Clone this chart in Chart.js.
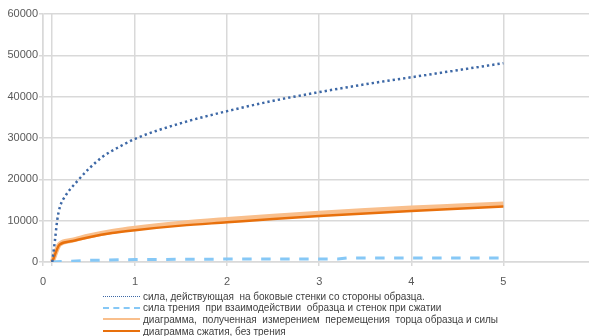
<!DOCTYPE html>
<html lang="ru">
<head>
<meta charset="utf-8">
<title>Диаграмма сжатия</title>
<script src="https://cdn.jsdelivr.net/npm/chart.js@4/dist/chart.umd.min.js"></script>
<style>
  html, body { margin: 0; padding: 0; background: #fff; overflow: hidden; }
  #wrap { position: relative; width: 589px; height: 336px; }
  #box { position: absolute; left: 0; top: 0; width: 589px; height: 292px; }
  #legend { position: absolute; left: 103px; top: 290px; font-family: "Liberation Sans", Arial, sans-serif;
            font-size: 10px; color: #404040; }
  .row { position: absolute; left: 0; height: 12px; white-space: pre; display: flex; align-items: center; }
  .sample { width: 37px; height: 0; margin-right: 3px; }
</style>
</head>
<body>
<div id="wrap">
  <div id="box"><canvas id="c"></canvas></div>
  <div id="legend"></div>
</div>
<script>
// Series labels
const seriesNames = [
  'сила, действующая  на боковые стенки со стороны образца.',
  'сила трения  при взаимодействии  образца и стенок при сжатии',
  'диаграмма,  полученная  измерением  перемещения  торца образца и силы',
  'диаграмма сжатия, без трения'
];

// Displacement values for each series
const xSide = [0.1, 0.11, 0.13, 0.155, 0.185, 0.24, 0.37, 0.5, 0.65, 0.84, 1.0, 1.5, 2, 2.5, 3, 3.5, 4, 4.5, 5];
const ySide = [0, 1700, 5300, 10200, 13400, 15900, 19500, 22600, 25500, 28000, 29800, 33600, 36500, 39000, 41100, 43000, 44700, 46400, 48100];

const xFriction = [0.1, 0.2, 0.5, 1, 1.5, 2, 2.5, 3, 3.2, 3.3, 4, 5];
const yFriction = [0, 100, 400, 600, 650, 700, 700, 720, 720, 950, 960, 980];

const xMeasured = [0.1, 0.18, 0.3, 0.5, 0.75, 1, 1.5, 2, 2.5, 3, 3.5, 4, 4.5, 5];
const yMeasured = [0, 4300, 5200, 6300, 7400, 8200, 9400, 10300, 11100, 11800, 12450, 13050, 13550, 14050];

const xPure = [0.1, 0.18, 0.3, 0.5, 0.75, 1, 1.5, 2, 2.5, 3, 3.5, 4, 4.5, 5];
const yPure = [0, 4200, 5000, 6000, 7000, 7700, 8800, 9600, 10400, 11100, 11750, 12350, 12900, 13400];

// Axis ticks
const xTicks = [0, 0.1, 1, 2, 3, 4, 5];
const xLabels = ['0', '', '1', '2', '3', '4', '5'];
const yTicks = [0, 10000, 20000, 30000, 40000, 50000, 60000];

const pts = (xs, ys) => xs.map((x, i) => ({ x: x, y: ys[i] }));

const colors = {
  side: '#3d68a6',
  friction: '#86c8f6',
  measured: '#f9bf8c',
  pure: '#e8700c'
};

const grid = '#d9d9d9';
const tickColor = '#595959';
const font = { family: '"Liberation Sans", Arial, sans-serif', size: 11 };

new Chart(document.getElementById('c'), {
  type: 'line',
  data: {
    datasets: [
      { label: seriesNames[0], data: pts(xSide, ySide), borderColor: colors.side, borderWidth: 2.5,
        borderDash: [2.3, 3], cubicInterpolationMode: 'monotone', pointRadius: 0, order: 1 },
      { label: seriesNames[1], data: pts(xFriction, yFriction), borderColor: colors.friction, borderWidth: 3,
        borderDash: [9.5, 9.5], tension: 0, pointRadius: 0, order: 2 },
      { label: seriesNames[2], data: pts(xMeasured, yMeasured), borderColor: colors.measured, borderWidth: 5,
        cubicInterpolationMode: 'monotone', pointRadius: 0, order: 4 },
      { label: seriesNames[3], data: pts(xPure, yPure), borderColor: colors.pure, borderWidth: 2.5,
        cubicInterpolationMode: 'monotone', pointRadius: 0, order: 3 }
    ]
  },
  options: {
    responsive: true,
    maintainAspectRatio: false,
    animation: false,
    layout: { padding: { top: 14, right: 0, left: 0, bottom: 0 } },
    plugins: { legend: { display: false }, tooltip: { enabled: false } },
    scales: {
      x: {
        type: 'linear',
        min: 0,
        max: 5.93,
        afterBuildTicks: (axis) => { axis.ticks = xTicks.map(v => ({ value: v })); },
        afterFit: (axis) => { axis.height = 30; },
        ticks: {
          color: tickColor, font: font, padding: 9, maxRotation: 0, autoSkip: false,
          callback: (v, i) => xLabels[i]
        },
        grid: { color: grid, lineWidth: 1.5, tickLength: 4, drawTicks: true },
        border: { color: grid, width: 1.5 }
      },
      y: {
        min: 0,
        max: 60000,
        afterBuildTicks: (axis) => { axis.ticks = yTicks.map(v => ({ value: v })); },
        afterFit: (axis) => { axis.width = 43; },
        ticks: { color: tickColor, font: font, padding: 1, callback: (v) => String(v) },
        grid: { color: grid, lineWidth: 1.5, tickLength: 4 },
        border: { color: grid, width: 1.5 }
      }
    }
  }
});

// Legend rows drawn below the plot
const legendStyles = [
  'border-top: 1px dotted ' + colors.side,
  'border-top: 2px dashed ' + colors.friction,
  'border-top: 2px solid ' + colors.measured,
  'border-top: 2px solid ' + colors.pure
];
const rowTops = [0, 11.5, 23, 35];
const legend = document.getElementById('legend');
seriesNames.forEach((name, i) => {
  const row = document.createElement('div');
  row.className = 'row';
  row.style.top = rowTops[i] + 'px';
  const s = document.createElement('span');
  s.className = 'sample';
  s.setAttribute('style', legendStyles[i]);
  const t = document.createElement('span');
  t.textContent = name;
  row.appendChild(s);
  row.appendChild(t);
  legend.appendChild(row);
});
</script>
</body>
</html>
